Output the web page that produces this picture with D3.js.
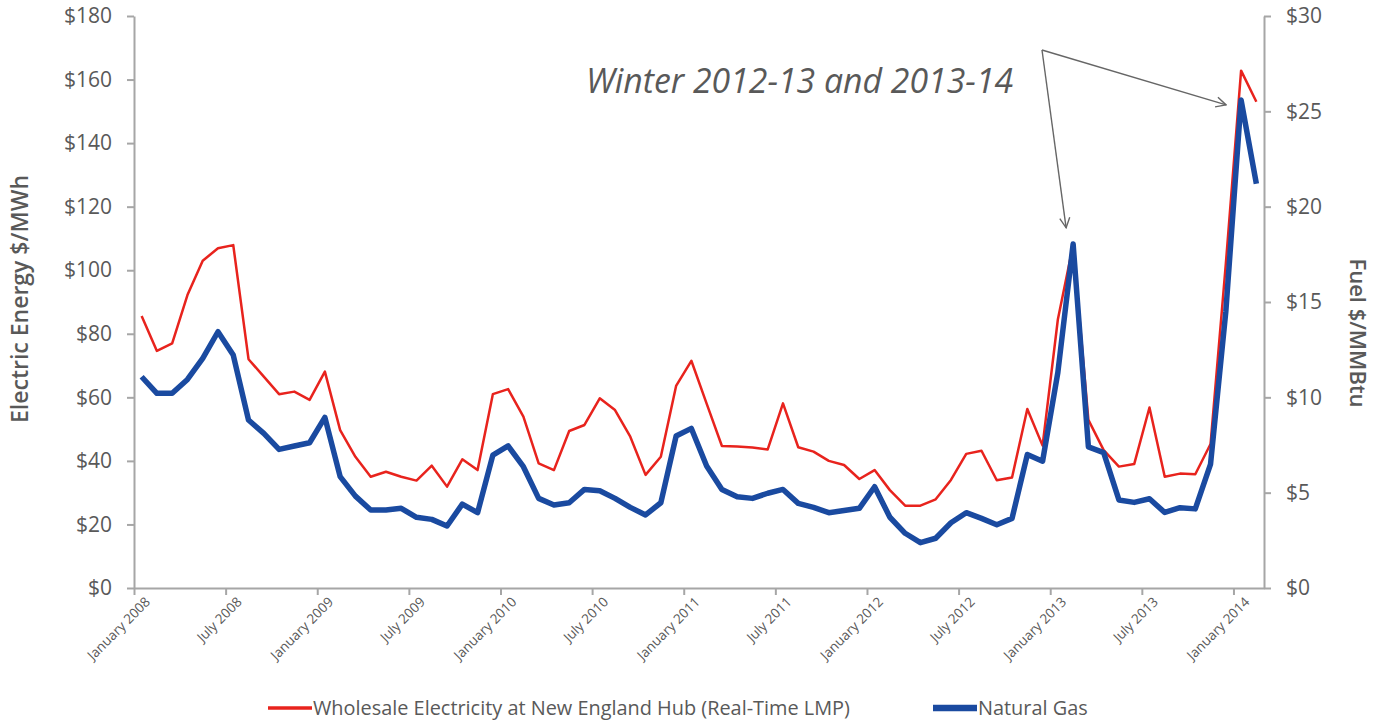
<!DOCTYPE html>
<html>
<head>
<meta charset="utf-8">
<script src="https://cdn.jsdelivr.net/npm/d3@7"></script>
<style>
  html, body { margin: 0; padding: 0; background: #ffffff; }
  svg { display: block; font-family: "Open Sans", "DejaVu Sans", sans-serif; }
</style>
</head>
<body>
<svg id="chart" width="1373" height="721"></svg>
<script>
// Monthly averages, January 2008 through February 2014
const electricity = [
  85.6, 74.6, 77.0, 92.2, 103.0, 106.9, 107.9, 72.0, 66.5, 61.0, 61.8, 59.2,
  68.1, 49.7, 41.3, 35.0, 36.6, 35.0, 33.8, 38.5, 31.9, 40.5, 37.1, 61.0,
  62.6, 53.9, 39.2, 37.1, 49.4, 51.3, 59.7, 56.0, 47.6, 35.6, 41.3, 63.6,
  71.5, 58.0, 44.7, 44.5, 44.2, 43.6, 58.1, 44.3, 42.9, 40.0, 38.7, 34.3,
  37.1, 30.8, 25.9, 25.9, 27.9, 34.0, 42.2, 43.2, 33.9, 34.8, 56.3, 44.8,
  84.5, 108.0, 52.9, 43.4, 38.2, 39.0, 56.8, 35.0, 36.0, 35.8, 45.3, 102.0,
  162.8, 153.0
];
const naturalGas = [
  11.08, 10.21, 10.21, 10.94, 12.04, 13.44, 12.22, 8.81, 8.11, 7.27, 7.45, 7.62,
  8.95, 5.84, 4.82, 4.09, 4.09, 4.18, 3.71, 3.60, 3.25, 4.40, 3.95, 6.97,
  7.45, 6.36, 4.70, 4.35, 4.47, 5.17, 5.10, 4.70, 4.23, 3.83, 4.47, 7.97,
  8.37, 6.40, 5.17, 4.79, 4.70, 4.97, 5.17, 4.44, 4.23, 3.95, 4.06, 4.18,
  5.31, 3.71, 2.87, 2.38, 2.61, 3.42, 3.95, 3.65, 3.32, 3.65, 7.00, 6.65,
  11.30, 18.04, 7.40, 7.10, 4.62, 4.49, 4.68, 3.96, 4.21, 4.15, 6.50, 14.50,
  25.60, 21.20
];
const tickLabels = [
  "January 2008", "July 2008", "January 2009", "July 2009", "January 2010",
  "July 2010", "January 2011", "July 2011", "January 2012", "July 2012",
  "January 2013", "July 2013", "January 2014"
];
const electricityTicks = [0, 20, 40, 60, 80, 100, 120, 140, 160, 180];
const gasTicks = [0, 5, 10, 15, 20, 25, 30];
const seriesNames = ["Wholesale Electricity at New England Hub (Real-Time LMP)", "Natural Gas"];
const annotationText = "Winter 2012-13 and 2013-14";
const winterPeaks = [61, 72]; // Feb 2013 and Jan 2014

const svg = d3.select("#chart");
const margin = { left: 134, right: 1264, top: 16, bottom: 588 };
const axisColor = "#a6a6a6";
const textColor = "#595959";
const redColor = "#e8231d";
const blueColor = "#1a4aa0";

const n = electricity.length;
const x = d3.scaleLinear().domain([0, n]).range([margin.left, margin.right]);
const yL = d3.scaleLinear().domain([0, 180]).range([margin.bottom, margin.top]);
const yR = d3.scaleLinear().domain([0, 30]).range([margin.bottom, margin.top]);
const cx = i => x(i + 0.5);

// Left axis
const gL = svg.append("g")
  .attr("transform", `translate(${margin.left},0)`)
  .call(d3.axisLeft(yL).tickValues(electricityTicks).tickFormat(d => "$" + d)
    .tickSize(7).tickSizeOuter(0).tickPadding(15));
// Right axis
const gR = svg.append("g")
  .attr("transform", `translate(${margin.right},0)`)
  .call(d3.axisRight(yR).tickValues(gasTicks).tickFormat(d => "$" + d)
    .tickSize(7).tickSizeOuter(0).tickPadding(15));
// Bottom axis: ticks between months, labels rotated
const gB = svg.append("g")
  .attr("transform", `translate(0,${margin.bottom})`)
  .call(d3.axisBottom(x).tickValues(d3.range(0, 73, 6))
    .tickFormat((d, i) => tickLabels[i]).tickSize(7).tickSizeOuter(0));

[gL, gR, gB].forEach(g => {
  g.select(".domain").attr("stroke", axisColor).attr("stroke-width", 2);
  g.selectAll(".tick line").attr("stroke", axisColor).attr("stroke-width", 2);
});
[gL, gR].forEach(g => {
  g.selectAll(".tick text").attr("fill", textColor)
    .attr("font-size", 21).attr("font-family", "'Open Sans', sans-serif");
});
const bw = x(1) - x(0);
gB.selectAll(".tick text")
  .attr("fill", textColor)
  .attr("font-size", 13.5)
  .attr("font-family", "'Open Sans', sans-serif")
  .attr("text-anchor", "end")
  .attr("dy", "0.3em")
  .attr("y", 0)
  .attr("transform", `translate(${bw / 2 + 6},12) rotate(-45)`);

// Axis titles
svg.append("text")
  .attr("transform", `translate(28,299) rotate(-90)`)
  .attr("text-anchor", "middle")
  .attr("fill", textColor)
  .attr("font-weight", 600)
  .attr("font-size", 23)
  .text("Electric Energy $/MWh");
svg.append("text")
  .attr("transform", `translate(1350,333) rotate(90)`)
  .attr("text-anchor", "middle")
  .attr("fill", textColor)
  .attr("font-weight", 600)
  .attr("font-size", 22)
  .text("Fuel $/MMBtu");

// Series lines
const lineL = d3.line().x((d, i) => cx(i)).y(d => yL(d));
const lineR = d3.line().x((d, i) => cx(i)).y(d => yR(d));
svg.append("path").datum(electricity)
  .attr("d", lineL).attr("fill", "none")
  .attr("stroke", redColor).attr("stroke-width", 2.5)
  .attr("stroke-linejoin", "round");
svg.append("path").datum(naturalGas)
  .attr("d", lineR).attr("fill", "none")
  .attr("stroke", blueColor).attr("stroke-width", 5.5)
  .attr("stroke-linejoin", "round");

// Annotation with arrows pointing to the two winter peaks
const defs = svg.append("defs");
defs.append("marker")
  .attr("id", "arrowHead")
  .attr("viewBox", "0 0 12 12")
  .attr("refX", 11).attr("refY", 6)
  .attr("markerWidth", 12).attr("markerHeight", 12)
  .attr("markerUnits", "userSpaceOnUse")
  .attr("orient", "auto")
  .append("path")
  .attr("d", "M1,1 L11,6 L1,11")
  .attr("fill", "none").attr("stroke", "#666").attr("stroke-width", 1.4);

svg.append("text")
  .attr("x", 586).attr("y", 93)
  .attr("fill", textColor)
  .attr("font-style", "italic")
  .attr("font-size", 33.8)
  .text(annotationText);

const origin = [1042, 50];
const tips = [
  [cx(winterPeaks[0]) - 7, yL(electricity[winterPeaks[0]]) - 17],
  [cx(winterPeaks[1]) - 15, yR(naturalGas[winterPeaks[1]]) + 5]
];
tips.forEach(t => {
  svg.append("line")
    .attr("x1", origin[0]).attr("y1", origin[1])
    .attr("x2", t[0]).attr("y2", t[1])
    .attr("stroke", "#666").attr("stroke-width", 1.4)
    .attr("marker-end", "url(#arrowHead)");
});

// Legend
const legend = svg.append("g");
const legendItems = [
  { name: seriesNames[0], color: redColor, width: 3.5, x0: 268 },
  { name: seriesNames[1], color: blueColor, width: 6.5, x0: 933 }
];
legendItems.forEach(d => {
  legend.append("line")
    .attr("x1", d.x0).attr("x2", d.x0 + 44)
    .attr("y1", 708).attr("y2", 708)
    .attr("stroke", d.color).attr("stroke-width", d.width);
  legend.append("text")
    .attr("x", d.x0 + 45).attr("y", 715)
    .attr("fill", textColor)
    .attr("font-size", 19.9)
    .text(d.name);
});
</script>
</body>
</html>
